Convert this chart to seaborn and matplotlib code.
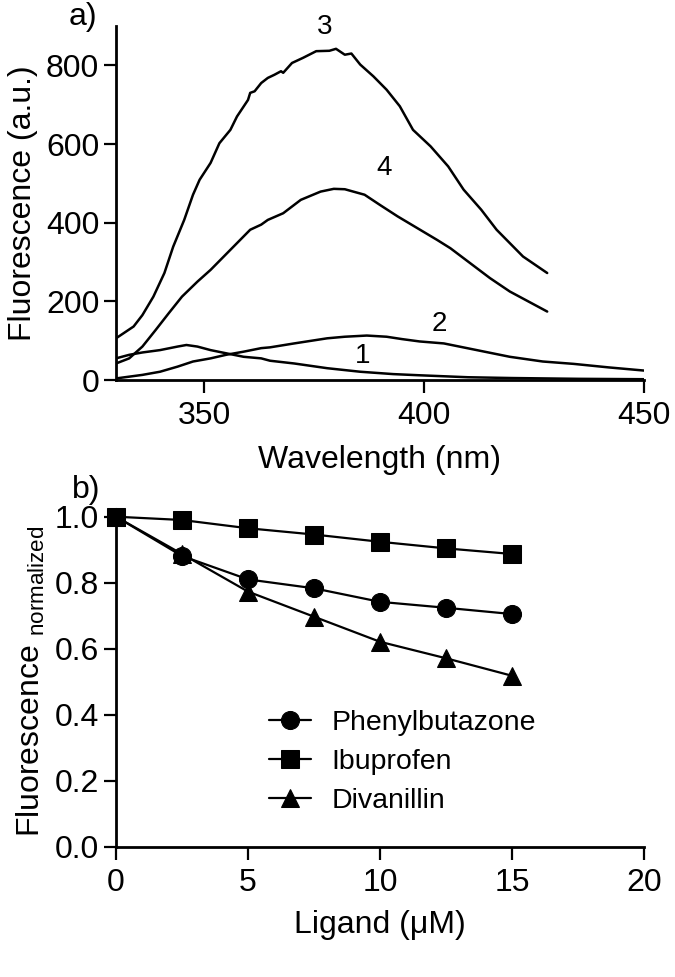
import matplotlib
matplotlib.use("Agg")
import matplotlib.pyplot as plt
import seaborn as sns
import numpy as np
import pandas as pd

# ---------------- data: panel a (emission spectra) ----------------
wl1 = [330, 333, 336, 340, 344, 346, 348.5, 351.5, 355, 359, 363, 365, 370.5, 378,
       385.5, 393, 399, 410, 420, 435, 450]
f1 = [55, 64, 70, 76, 85, 89, 85, 76, 68, 59, 55, 49, 42, 30, 21, 15, 12, 7, 5, 3, 2]

wl2 = [330, 336, 340, 344, 347.5, 351.5, 355, 359, 363, 365, 370.5, 378, 382, 387,
       391.5, 395, 399, 404.5, 412, 419.5, 427, 434, 442, 450]
f2 = [4, 13, 21, 34, 47, 55, 64, 72, 81, 83, 93, 106, 110, 113, 110, 104, 98, 93,
      76, 59, 47, 41, 32, 24]

wl3 = [330, 334, 336, 338.5, 341, 343, 345.5, 347.5, 349, 351.5, 353.5, 356, 357.5,
       360, 360.5, 361.5, 363, 364.5, 366, 367.5, 368, 370, 372.5, 375.5, 378.5, 380,
       382, 383.5, 385.5, 388.5, 391.5, 394.5, 397.5, 401.5, 405.5, 409, 413, 416.5,
       419.5, 422.5, 428]
f3 = [106, 136, 165, 212, 272, 339, 407, 471, 509, 552, 602, 636, 670, 712, 730, 734,
      755, 768, 776, 785, 781, 806, 819, 836, 837, 842, 827, 830, 802, 772, 738, 696,
      636, 594, 543, 484, 433, 382, 348, 314, 272]

wl4 = [330, 333, 336, 339, 342, 345, 348.5, 351.5, 354.5, 357.5, 360.5, 363, 364.5,
       368, 372, 376.5, 379.5, 382, 386.5, 390, 394, 398.5, 403, 406, 410.5, 415,
       419.5, 424.5, 428]
f4 = [42, 55, 85, 127, 170, 212, 250, 280, 314, 348, 382, 395, 407, 424, 458, 479,
      486, 485, 471, 445, 416, 386, 356, 335, 297, 259, 225, 195, 174]

curve_labels = ["1", "2", "3", "4"]
label_x = [386, 403.5, 377.5, 391]
label_y = [62, 143, 897, 540]

# ---------------- data: panel b (quenching) ----------------
ligand = [0, 2.5, 5, 7.5, 10, 12.5, 15]
phenylbutazone = [1.0, 0.881, 0.810, 0.783, 0.742, 0.724, 0.705]
ibuprofen = [1.0, 0.990, 0.965, 0.946, 0.924, 0.904, 0.887]
divanillin = [1.0, 0.887, 0.773, 0.697, 0.621, 0.571, 0.518]
series_names = ["Phenylbutazone", "Ibuprofen", "Divanillin"]
series_markers = ["o", "s", "^"]

# ---------------- style ----------------
sns.set_style("ticks")
plt.rcParams["font.family"] = ["Liberation Sans", "DejaVu Sans"]
plt.rcParams["mathtext.fontset"] = "custom"
plt.rcParams["mathtext.rm"] = "Liberation Sans"
plt.rcParams["text.color"] = "black"
plt.rcParams["axes.labelcolor"] = "black"

FS = 23
fig = plt.figure(figsize=(6.75, 9.77), dpi=100)
axa = fig.add_axes([116 / 675, 1 - 380 / 977, 528 / 675, 354 / 977])
axb = fig.add_axes([116 / 675, 1 - 846.7 / 977, 528 / 675, 330 / 977])

for wl, f in zip([wl1, wl2, wl3, wl4], [f1, f2, f3, f4]):
    sns.lineplot(x=wl, y=f, ax=axa, color="black", linewidth=1.8, sort=False,
                 estimator=None, legend=False)
for t, x, y in zip(curve_labels, label_x, label_y):
    axa.text(x, y, t, fontsize=20, ha="center", va="center", clip_on=False)

axa.set_xlim(330, 450)
axa.set_ylim(0, 900)
axa.set_xticks([350, 400, 450])
axa.set_yticks([0, 200, 400, 600, 800])
axa.set_xlabel("Wavelength (nm)", fontsize=FS, labelpad=10)
axa.set_ylabel("Fluorescence (a.u.)", fontsize=FS, labelpad=6)

df = pd.DataFrame({
    "ligand": ligand * 3,
    "value": phenylbutazone + ibuprofen + divanillin,
    "compound": sum([[n] * len(ligand) for n in series_names], []),
})
for name, m in zip(series_names, series_markers):
    sub = df[df["compound"] == name]
    sns.lineplot(data=sub, x="ligand", y="value", ax=axb, color="black", marker=m,
                 markersize=13, markeredgecolor="black", linewidth=1.6, label=name,
                 clip_on=False, estimator=None)

axb.set_xlim(0, 20)
axb.set_ylim(0, 1.0)
axb.set_xticks([0, 5, 10, 15, 20])
axb.set_yticks([0.0, 0.2, 0.4, 0.6, 0.8, 1.0])
axb.set_yticklabels(["0.0", "0.2", "0.4", "0.6", "0.8", "1.0"])
axb.set_xlabel("Ligand (μM)", fontsize=FS, labelpad=9)
axb.set_ylabel(r"Fluorescence $_{\mathregular{normalized}}$", fontsize=FS, labelpad=6)

leg = axb.legend(loc="upper left", bbox_to_anchor=(0.289, 0.414), frameon=False,
                 fontsize=20.5, handlelength=1.5, handletextpad=0.7, labelspacing=0.45,
                 borderpad=0, borderaxespad=0)

for ax in (axa, axb):
    sns.despine(ax=ax)
    for s in ("left", "bottom"):
        ax.spines[s].set_linewidth(2)
        ax.spines[s].set_color("black")
    ax.tick_params(direction="out", length=9, width=1.6, labelsize=FS, pad=3,
                   colors="black")
    ax.tick_params(axis="x", pad=6)

fig.text(83 / 675, 1 - 25 / 977, "a)", fontsize=23, ha="center", va="baseline")
fig.text(86 / 675, 1 - 498 / 977, "b)", fontsize=23, ha="center", va="baseline")

fig.savefig("out.png", dpi=100, facecolor="white")
